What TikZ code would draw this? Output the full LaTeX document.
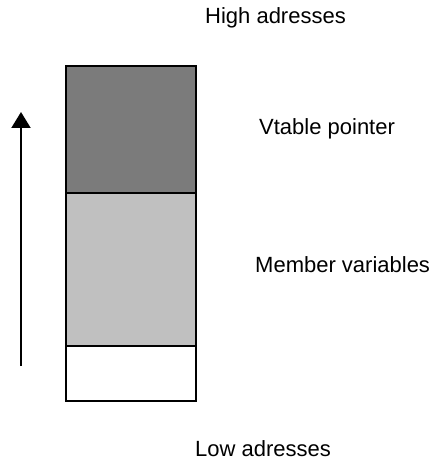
\documentclass[tikz,border=0pt]{standalone}
\usepackage{fontspec}
\setmainfont{Liberation Sans}
\usetikzlibrary{arrows.meta}
\definecolor{vptrgray}{HTML}{7B7B7B}
\definecolor{membergray}{HTML}{C0C0C0}
\begin{document}
\begin{tikzpicture}[x=1pt,y=-1pt,
  cell/.style={draw=black, line width=2pt, minimum width=130pt, inner sep=0pt, outer sep=0pt},
  caption/.style={anchor=base west, inner sep=0pt, font=\fontsize{22pt}{26pt}\selectfont}]
  \useasboundingbox (0,0) rectangle (432,465);
  % object layout, from the top of memory down
  \node[cell, fill=vptrgray, minimum height=127pt] (vptr) at (131,129.5) {};
  \node[cell, fill=membergray, minimum height=152.7pt] (members) at (131,269.35) {};
  \node[cell, fill=white, minimum height=55.3pt] (rest) at (131,373.35) {};
  % direction of increasing addresses
  \coordinate (lo) at (21,366);
  \coordinate (hi) at (21,112);
  \draw[line width=2pt, -{Triangle[length=16pt,width=19pt]}] (lo) -- (hi);
  % labels
  \node[caption] (high) at (205,23.5) {High adresses};
  \node[caption] (vlabel) at (259,135) {Vtable pointer};
  \node[caption] (mlabel) at (255,272) {Member variables};
  \node[caption] (low) at (195,456.5) {Low adresses};
\end{tikzpicture}
\end{document}
